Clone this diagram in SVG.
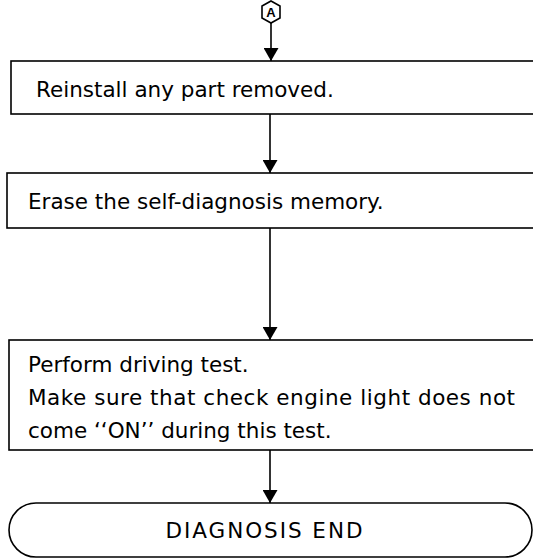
<svg xmlns="http://www.w3.org/2000/svg" width="533" height="560" viewBox="0 0 533 560">
<style>
.box{fill:#fff;stroke:#000;stroke-width:1.6}
.t{font-family:"DejaVu Sans","Liberation Sans",Arial,sans-serif;font-size:21.5px;fill:#000}
.c{stroke:#000;stroke-width:1.6;fill:none}
</style>
<defs>
<marker id="ah" markerWidth="13" markerHeight="15" refX="13" refY="7.5" orient="auto" markerUnits="userSpaceOnUse">
<path d="M0,0 L13,7.5 L0,15 Z" fill="#000"/>
</marker>
</defs>
<rect width="533" height="560" fill="#fff"/>
<g id="connA">
<polygon points="271,1 280,6 280,18 271,23 262,18 262,6" fill="#fff" stroke="#000" stroke-width="1.6"/>
<text x="271" y="17" text-anchor="middle" style="font-family:'Liberation Sans',Arial,sans-serif;font-size:13px;font-weight:bold">A</text>
</g>
<g id="n1">
<rect class="box" x="11" y="61" width="530" height="53"/>
<text class="t" x="36" y="97">Reinstall any part removed.</text>
</g>
<g id="n2">
<rect class="box" x="7" y="173" width="534" height="55"/>
<text class="t" x="28" y="209">Erase the self-diagnosis memory.</text>
</g>
<g id="n3">
<rect class="box" x="9" y="340" width="532" height="110"/>
<text class="t" x="28" y="372">Perform driving test.</text>
<text class="t" x="28" y="405" textLength="487" lengthAdjust="spacing">Make sure that check engine light does not</text>
<text class="t" x="28" y="438">come ‘‘ON’’ during this test.</text>
</g>
<g id="n4">
<rect class="box" x="9" y="503" width="523" height="54" rx="27" ry="27"/>
<text class="t" x="264" y="538" text-anchor="middle" textLength="197" lengthAdjust="spacing">DIAGNOSIS END</text>
</g>
<g id="connectors">
<line class="c" x1="271" y1="23" x2="271" y2="61" marker-end="url(#ah)"/>
<line class="c" x1="270" y1="114" x2="270" y2="173" marker-end="url(#ah)"/>
<line class="c" x1="270" y1="228" x2="270" y2="340" marker-end="url(#ah)"/>
<line class="c" x1="270" y1="450" x2="270" y2="503" marker-end="url(#ah)"/>
</g>
</svg>
